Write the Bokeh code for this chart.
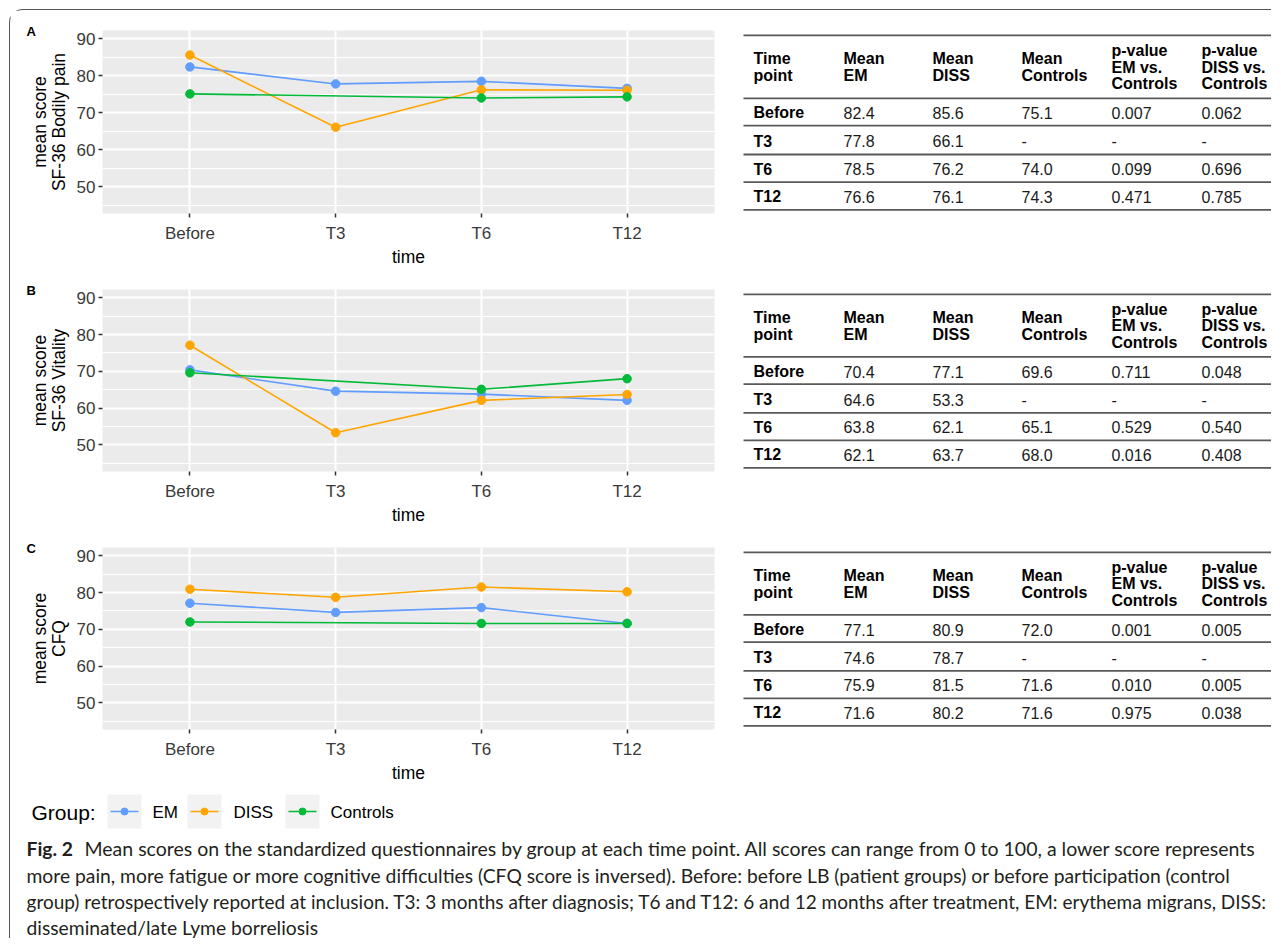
from bokeh.plotting import figure
from bokeh.layouts import column, row
from bokeh.models import Range1d, FixedTicker, ColumnDataSource
from bokeh.embed import file_html
from bokeh.resources import INLINE
from bokeh.core.properties import value

# ---------------- data ----------------
time_points = ["Before", "T3", "T6", "T12"]
groups = ["EM", "DISS", "Controls"]
group_colors = ["#619CFF", "#FFA500", "#00BA38"]

panel_letters = ["A", "B", "C"]
panel_ylabels = ["mean score\nSF-36 Bodily pain", "mean score\nSF-36 Vitality", "mean score\nCFQ"]

bodily_em = [82.4, 77.8, 78.5, 76.6]
bodily_diss = [85.6, 66.1, 76.2, 76.1]
bodily_ctrl = [75.1, None, 74.0, 74.3]
bodily_p_em = [0.007, None, 0.099, 0.471]
bodily_p_diss = [0.062, None, 0.696, 0.785]

vitality_em = [70.4, 64.6, 63.8, 62.1]
vitality_diss = [77.1, 53.3, 62.1, 63.7]
vitality_ctrl = [69.6, None, 65.1, 68.0]
vitality_p_em = [0.711, None, 0.529, 0.016]
vitality_p_diss = [0.048, None, 0.540, 0.408]

cfq_em = [77.1, 74.6, 75.9, 71.6]
cfq_diss = [80.9, 78.7, 81.5, 80.2]
cfq_ctrl = [72.0, None, 71.6, 71.6]
cfq_p_em = [0.001, None, 0.010, 0.975]
cfq_p_diss = [0.005, None, 0.005, 0.038]

y_ticks = [50, 60, 70, 80, 90]
y_minor = [45, 55, 65, 75, 85]

table_headers = [["Time", "point"], ["Mean", "EM"], ["Mean", "DISS"], ["Mean", "Controls"],
                 ["p-value", "EM vs.", "Controls"], ["p-value", "DISS vs.", "Controls"]]

caption_bold = "Fig. 2"
caption_lines = [
    "Mean scores on the standardized questionnaires by group at each time point.  All scores can range from 0 to 100, a lower score represents",
    "more pain, more fatigue or more cognitive difficulties (CFQ score is inversed). Before: before LB (patient groups) or before participation (control",
    "group) retrospectively reported at inclusion. T3: 3 months after diagnosis; T6 and T12: 6 and 12 months after treatment, EM: erythema migrans, DISS:",
    "disseminated/late Lyme borreliosis",
]

# ---------------- style ----------------
FONT = "Liberation Sans"
CAP_FONT = "Lato"
PANEL_W = 723
TABLE_W = 538
ROW_H = [259, 258, 258]
FR_TOP, FR_H = 20, 187


def make_panel(letter, ylab, series, h):
    xs_all = list(range(1, len(time_points) + 1))
    p = figure(width=PANEL_W, height=h,
               x_range=Range1d(0.4, len(time_points) + 0.6), y_range=Range1d(42.75, 92.25),
               output_backend="svg", toolbar_location=None,
               min_border_left=92, min_border_right=19,
               min_border_top=FR_TOP, min_border_bottom=h - FR_TOP - FR_H)
    p.background_fill_color = "#EBEBEB"
    p.border_fill_color = "white"
    p.outline_line_color = None

    p.xaxis.ticker = FixedTicker(ticks=xs_all)
    p.xaxis.major_label_overrides = {i: t for i, t in zip(xs_all, time_points)}
    p.yaxis.ticker = FixedTicker(ticks=y_ticks, minor_ticks=y_minor)
    for ax in (p.xaxis, p.yaxis):
        ax.axis_line_color = None
        ax.major_tick_line_color = "#333333"
        ax.major_tick_line_width = 1.5
        ax.major_tick_out = 4
        ax.major_tick_in = 0
        ax.minor_tick_line_color = None
        ax.major_label_text_font = FONT
        ax.major_label_text_font_size = "17px"
        ax.major_label_text_color = "#3A3A3A"
        ax.axis_label_text_font = FONT
        ax.axis_label_text_font_size = "17.5px"
        ax.axis_label_text_font_style = "normal"
        ax.axis_label_text_color = "black"
        ax.axis_label_text_line_height = 0.95
    p.xaxis.major_label_standoff = 6
    p.yaxis.major_label_standoff = 3
    p.xaxis.axis_label = "time"
    p.xaxis.axis_label_standoff = 1
    p.yaxis.axis_label = ylab
    p.yaxis.axis_label_standoff = 5

    p.xgrid.grid_line_color = "white"
    p.xgrid.grid_line_width = 2
    p.ygrid.grid_line_color = "white"
    p.ygrid.grid_line_width = 2
    p.ygrid.minor_grid_line_color = "white"
    p.ygrid.minor_grid_line_width = 1

    for vals, col in zip(series, group_colors):
        xs = [x for x, v in zip(xs_all, vals) if v is not None]
        ys = [v for v in vals if v is not None]
        src = ColumnDataSource(dict(x=xs, y=ys))
        p.line("x", "y", source=src, line_color=col, line_width=1.6)
        p.scatter("x", "y", source=src, size=8.5, fill_color=col, line_color=col)

    # panel letter
    p.title.text = letter
    p.title.align = "left"
    p.title.offset = -76
    p.title.standoff = -16
    p.title.text_font = FONT
    p.title.text_font_size = "13px"
    p.title.text_font_style = "bold"
    p.title.text_color = "black"
    return p


def fmt(v, d):
    return "-" if v is None else f"{v:.{d}f}"


def make_table(h, em, diss, ctrl, pem, pdiss):
    t = figure(width=TABLE_W, height=h, x_range=Range1d(0, TABLE_W),
               y_range=Range1d(FR_TOP + FR_H, FR_TOP),
               x_axis_type=None, y_axis_type=None,
               output_backend="svg", toolbar_location=None,
               min_border_left=0, min_border_right=0,
               min_border_top=FR_TOP, min_border_bottom=h - FR_TOP - FR_H)
    t.outline_line_color = None
    t.background_fill_color = "white"
    t.border_fill_color = "white"
    t.xgrid.visible = False
    t.ygrid.visible = False

    col_x = [20, 110, 199, 288, 378, 468]
    rule_y = [25, 89.3, 117.3, 146.7, 175, 203.3]
    row_y = [104.3, 133.3, 161.7, 190]

    t.segment(x0=[10] * len(rule_y), x1=[TABLE_W] * len(rule_y), y0=rule_y, y1=rule_y,
              line_color="#595959", line_width=1.8)

    hx, hy, ht = [], [], []
    for cx, lines in zip(col_x, table_headers):
        n = len(lines)
        for k, s in enumerate(lines):
            hx.append(cx)
            hy.append(57.5 + (k - (n - 1) / 2) * 17)
            ht.append(s)
    t.text(x=hx, y=hy, text=ht, text_font=value(FONT), text_font_style="bold",
           text_font_size="16px", text_baseline="middle", text_align="left", text_color="black")

    t.text(x=[col_x[0]] * len(time_points), y=row_y, text=time_points, text_font=value(FONT),
           text_font_style="bold", text_font_size="16px", text_baseline="middle",
           text_align="left", text_color="black")

    vx, vy, vt = [], [], []
    for j, (vals, d) in enumerate([(em, 1), (diss, 1), (ctrl, 1), (pem, 3), (pdiss, 3)]):
        for i, v in enumerate(vals):
            vx.append(col_x[j + 1])
            vy.append(row_y[i])
            vt.append(fmt(v, d))
    t.text(x=vx, y=vy, text=vt, text_font=value(FONT), text_font_size="16px",
           text_baseline="middle", text_align="left", text_color="#1A1A1A")
    return t


panels_data = [
    (bodily_em, bodily_diss, bodily_ctrl, bodily_p_em, bodily_p_diss),
    (vitality_em, vitality_diss, vitality_ctrl, vitality_p_em, vitality_p_diss),
    (cfq_em, cfq_diss, cfq_ctrl, cfq_p_em, cfq_p_diss),
]

rows = []
for letter, ylab, h, (em, diss, ctrl, pem, pdiss) in zip(panel_letters, panel_ylabels, ROW_H, panels_data):
    rows.append(row(make_panel(letter, ylab, [em, diss, ctrl], h),
                    make_table(h, em, diss, ctrl, pem, pdiss)))

# ---------------- legend ----------------
LEG_W, LEG_H = PANEL_W + TABLE_W, 53
leg = figure(width=LEG_W, height=LEG_H, x_range=Range1d(10, 10 + LEG_W), y_range=Range1d(785 + LEG_H, 785),
             x_axis_type=None, y_axis_type=None, output_backend="svg", toolbar_location=None, min_border=0)
leg.outline_line_color = None
leg.xgrid.visible = False
leg.ygrid.visible = False
leg.text(x=[31], y=[812], text=["Group:"], text_font=value(FONT), text_font_size="21px",
         text_baseline="middle", text_align="left", text_color="black")
key_left = [107, 187, 285]
label_left = [152, 233, 330]
leg.rect(x=[k + 17 for k in key_left], y=[811] * 3, width=34, height=34,
         fill_color="#F2F2F2", line_color=None)
leg.segment(x0=[k + 3 for k in key_left], x1=[k + 31 for k in key_left], y0=[811] * 3, y1=[811] * 3,
            line_color=group_colors, line_width=1.6)
leg.scatter(x=[k + 17 for k in key_left], y=[811] * 3, size=7, fill_color=group_colors, line_color=group_colors)
leg.text(x=label_left, y=[812] * 3, text=groups, text_font=value(FONT), text_font_size="17px",
         text_baseline="middle", text_align="left", text_color="black")

# ---------------- caption ----------------
CAP_H = 100
cap = figure(width=LEG_W, height=CAP_H, x_range=Range1d(10, 10 + LEG_W), y_range=Range1d(838 + CAP_H, 838),
             x_axis_type=None, y_axis_type=None, output_backend="svg", toolbar_location=None, min_border=0)
cap.outline_line_color = None
cap.xgrid.visible = False
cap.ygrid.visible = False
cap_y = [848, 875, 901, 927]
cap_x = [84, 26, 26, 26]
cap_sizes = ["19.5px", "19.3px", "19px", "19.3px"]
cap.text(x=[26], y=[cap_y[0]], text=[caption_bold], text_font=value(CAP_FONT), text_font_style="bold",
         text_font_size="19.3px", text_baseline="middle", text_align="left", text_color="#231F20")
for cx, cy, ct, cs in zip(cap_x, cap_y, caption_lines, cap_sizes):
    cap.text(x=[cx], y=[cy], text=[ct], text_font=value(CAP_FONT),
             text_font_size=cs, text_baseline="middle", text_align="left", text_color="#231F20")

layout = column(*rows, leg, cap,
                styles={"margin-left": "9px", "margin-top": "9px",
                        "border-left": "1.5px solid #555555", "border-top": "1.5px solid #555555",
                        "border-top-left-radius": "14px"})

open("out.html", "w").write(file_html(layout, INLINE))
